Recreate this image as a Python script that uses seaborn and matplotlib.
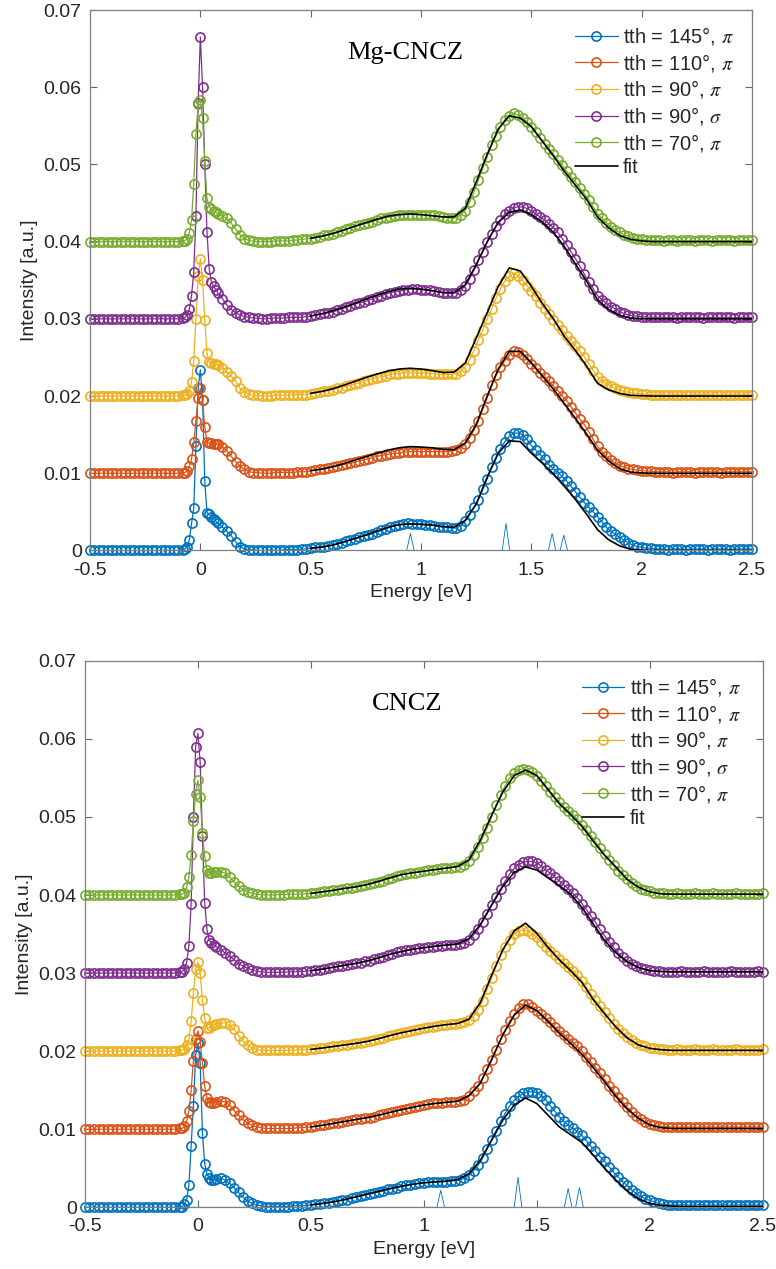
import numpy as np
import matplotlib
matplotlib.use("Agg")
import matplotlib.pyplot as plt
import seaborn as sns

# === CONFIGURACIÓN INICIAL ===
sns.set_theme(style="ticks")
plt.rcParams["font.family"] = ["Liberation Sans", "DejaVu Sans"]
plt.rcParams["mathtext.fontset"] = "stix"
plt.rcParams["axes.unicode_minus"] = False

# === DATOS ===
# Energía [eV] de los espectros medidos
energy = [
    -0.50, -0.48, -0.46, -0.44, -0.42, -0.40, -0.38, -0.36, -0.34, -0.32,
    -0.30, -0.28, -0.26, -0.24, -0.22, -0.20, -0.18, -0.16, -0.14, -0.12,
    -0.10, -0.08,
    -0.07, -0.06, -0.05, -0.04, -0.03, -0.02, -0.01, 0.00, 0.01, 0.02, 0.03, 0.04, 0.05, 0.06, 0.07,
    0.08, 0.10, 0.12, 0.14, 0.16, 0.18, 0.20, 0.22, 0.24, 0.26,
    0.28, 0.30, 0.32, 0.34, 0.36, 0.38, 0.40, 0.42, 0.44, 0.46,
    0.48, 0.50, 0.52, 0.54, 0.56, 0.58, 0.60, 0.62, 0.64, 0.66,
    0.68, 0.70, 0.72, 0.74, 0.76, 0.78, 0.80, 0.82, 0.84, 0.86,
    0.88, 0.90, 0.92, 0.94, 0.96, 0.98, 1.00, 1.02, 1.04, 1.06,
    1.08, 1.10, 1.12, 1.14, 1.16, 1.18, 1.20, 1.22, 1.24, 1.26,
    1.28, 1.30, 1.32, 1.34, 1.36, 1.38, 1.40, 1.42, 1.44, 1.46,
    1.48, 1.50, 1.52, 1.54, 1.56, 1.58, 1.60, 1.62, 1.64, 1.66,
    1.68, 1.70, 1.72, 1.74, 1.76, 1.78, 1.80, 1.82, 1.84, 1.86,
    1.88, 1.90, 1.92, 1.94, 1.96, 1.98, 2.00, 2.02, 2.04, 2.06,
    2.08, 2.10, 2.12, 2.14, 2.16, 2.18, 2.20, 2.22, 2.24, 2.26,
    2.28, 2.30, 2.32, 2.34, 2.36, 2.38, 2.40, 2.42, 2.44, 2.46,
    2.48, 2.50,
]

# Energía [eV] del ajuste
fit_energy = [
    0.50, 0.55, 0.60, 0.65, 0.70, 0.75, 0.80, 0.85, 0.90, 0.95,
    1.00, 1.05, 1.10, 1.15, 1.20, 1.25, 1.30, 1.35, 1.40, 1.45,
    1.50, 1.55, 1.60, 1.65, 1.70, 1.75, 1.80, 1.85, 1.90, 1.95,
    2.00, 2.05, 2.10, 2.15, 2.20, 2.25, 2.30, 2.35, 2.40, 2.45, 2.50,
]

labels = [r"tth = 145°, $\pi$", r"tth = 110°, $\pi$", r"tth = 90°, $\pi$",
          r"tth = 90°, $\sigma$", r"tth = 70°, $\pi$"]
colors = ["#0072BD", "#D95319", "#EDB120", "#7E2F8E", "#77AC30"]
offsets = [0.0, 0.01, 0.02, 0.03, 0.04]
unit = 1e-3  # las intensidades de abajo van en 1e-3 u.a. sobre su línea base

# --- Mg-CNCZ: datos ---
mg_145 = [
    0, 0, 0, 0, 0, 0, 0, 0, 0, 0, 0, 0, 0, 0, 0, 0, 0, 0, 0, 0, 0, 0.1,
    0.2, 0.5, 1.4, 3.5, 5.5, 13.5, 21.0, 23.4, 19.5, 9.0, 4.9, 4.7, 4.4, 4.1, 3.8,
    3.5, 3.0, 2.5, 1.9, 1.1, 0.5, 0.2, 0.1, 0.1, 0.0,
    0.0, 0.0, 0.1, 0.0, 0.0, 0.1, 0.1, 0.1, 0.1, 0.2,
    0.2, 0.3, 0.4, 0.4, 0.5, 0.6, 0.7, 0.9, 1.0, 1.2,
    1.4, 1.5, 1.7, 1.9, 2.0, 2.2, 2.4, 2.6, 2.8, 3.0,
    3.2, 3.3, 3.4, 3.5, 3.4, 3.4, 3.4, 3.3, 3.3, 3.2,
    3.1, 3.0, 3.0, 2.9, 2.9, 3.2, 3.8, 4.6, 5.6, 6.6,
    7.9, 9.3, 10.8, 12.0, 13.2, 14.1, 14.8, 15.2, 15.2, 15.0,
    14.4, 13.6, 13.0, 12.4, 11.8, 11.1, 10.6, 10.1, 9.6, 9.0,
    8.3, 7.6, 6.9, 6.2, 5.6, 5.0, 4.4, 3.7, 3.0, 2.5,
    2.1, 1.7, 1.3, 1.0, 0.7, 0.5, 0.4, 0.3, 0.3, 0.2,
    0.2, 0.2, 0.1, 0.2, 0.2, 0.2, 0.1, 0.2, 0.2, 0.2,
    0.2, 0.1, 0.2, 0.2, 0.2, 0.2, 0.1, 0.2, 0.2, 0.2,
    0.2, 0.2,
]
mg_110 = [
    0, 0, 0, 0, 0, 0, 0, 0, 0, 0, 0, 0, 0, 0, 0, 0, 0, 0, 0, 0, 0, 0.1,
    0.1, 0.3, 0.9, 1.8, 4.0, 6.8, 9.8, 11.0, 9.5, 6.0, 4.0, 3.9, 3.9, 3.8, 3.8,
    3.8, 3.4, 2.9, 2.2, 1.5, 0.9, 0.5, 0.2, 0.1, 0.1,
    0.0, 0.0, 0.0, 0.1, 0.1, 0.1, 0.1, 0.1, 0.2, 0.2,
    0.2, 0.3, 0.4, 0.5, 0.6, 0.7, 0.8, 0.9, 1.1, 1.2,
    1.3, 1.4, 1.6, 1.7, 1.9, 2.0, 2.2, 2.3, 2.4, 2.5,
    2.6, 2.6, 2.7, 2.8, 2.8, 2.8, 2.8, 2.8, 2.8, 2.8,
    2.8, 2.8, 2.8, 2.9, 3.0, 3.3, 3.8, 4.6, 5.6, 6.8,
    8.3, 9.8, 11.4, 12.7, 13.8, 14.6, 15.3, 15.8, 15.7, 15.3,
    14.8, 14.2, 13.6, 13.0, 12.5, 11.9, 11.3, 10.7, 10.0, 9.4,
    8.6, 7.8, 7.0, 6.3, 5.4, 4.4, 3.5, 2.8, 2.2, 1.7,
    1.3, 1.0, 0.8, 0.6, 0.5, 0.4, 0.35, 0.3, 0.25, 0.2,
    0.2, 0.2, 0.2, 0.1, 0.2, 0.2, 0.2, 0.2, 0.1, 0.2,
    0.2, 0.2, 0.2, 0.2, 0.1, 0.2, 0.2, 0.2, 0.2, 0.2,
    0.2, 0.2,
]
mg_90p = [
    0, 0, 0, 0, 0, 0, 0, 0, 0, 0, 0, 0, 0, 0, 0, 0, 0, 0, 0, 0, 0, 0.1,
    0.1, 0.3, 0.7, 1.8, 4.5, 10.0, 15.5, 17.8, 15.0, 9.8, 5.6, 4.4, 4.3, 4.2, 4.1,
    4.0, 3.7, 3.1, 2.6, 1.9, 1.0, 0.5, 0.25, 0.1, 0.1,
    0.0, 0.0, 0.0, 0.1, 0.1, 0.1, 0.1, 0.2, 0.2, 0.2,
    0.2, 0.3, 0.4, 0.5, 0.6, 0.7, 0.8, 1.0, 1.1, 1.3,
    1.4, 1.6, 1.7, 1.9, 2.1, 2.2, 2.4, 2.5, 2.6, 2.8,
    2.9, 2.9, 3.0, 3.0, 3.0, 3.0, 3.0, 3.0, 2.9, 2.9,
    2.8, 2.8, 2.8, 2.8, 2.9, 3.2, 3.8, 4.7, 5.9, 7.3,
    8.6, 10.0, 11.3, 12.7, 13.9, 14.9, 15.5, 15.9, 15.6, 15.0,
    14.3, 13.6, 12.9, 12.1, 11.3, 10.6, 9.9, 9.2, 8.5, 7.8,
    7.1, 6.5, 5.8, 5.1, 4.2, 3.3, 2.5, 2.0, 1.6, 1.3,
    1.0, 0.8, 0.6, 0.5, 0.4, 0.35, 0.3, 0.25, 0.2, 0.2,
    0.2, 0.2, 0.1, 0.2, 0.2, 0.2, 0.2, 0.1, 0.2, 0.2,
    0.2, 0.2, 0.2, 0.1, 0.2, 0.2, 0.2, 0.2, 0.2, 0.2,
    0.2, 0.2,
]
mg_90s = [
    0, 0, 0, 0, 0, 0, 0, 0, 0, 0, 0, 0, 0, 0, 0, 0, 0, 0, 0, 0, 0, 0.1,
    0.2, 0.5, 1.3, 3.0, 6.1, 13.3, 28.0, 36.5, 30.0, 20.0, 11.3, 6.5, 4.8, 4.2, 3.8,
    3.3, 2.6, 1.8, 1.2, 0.8, 0.5, 0.3, 0.2, 0.1, 0.1,
    0.0, 0.0, 0.1, 0.1, 0.1, 0.1, 0.2, 0.2, 0.2, 0.2,
    0.3, 0.35, 0.5, 0.6, 0.7, 0.8, 0.9, 1.1, 1.3, 1.5,
    1.7, 1.9, 2.1, 2.2, 2.4, 2.6, 2.8, 3.0, 3.2, 3.4,
    3.5, 3.6, 3.7, 3.8, 3.9, 3.9, 3.8, 3.8, 3.7, 3.6,
    3.5, 3.4, 3.3, 3.3, 3.4, 3.7, 4.3, 5.2, 6.3, 7.6,
    8.7, 9.9, 11.0, 12.0, 12.8, 13.6, 14.0, 14.4, 14.5, 14.5,
    14.3, 14.0, 13.6, 13.2, 12.8, 12.3, 11.8, 11.2, 10.4, 9.6,
    8.7, 7.8, 6.8, 5.8, 4.8, 3.9, 3.0, 2.5, 2.0, 1.6,
    1.3, 0.9, 0.7, 0.5, 0.4, 0.35, 0.3, 0.25, 0.2, 0.2,
    0.2, 0.2, 0.2, 0.2, 0.1, 0.2, 0.2, 0.2, 0.2, 0.2,
    0.1, 0.2, 0.2, 0.2, 0.2, 0.2, 0.2, 0.1, 0.2, 0.2,
    0.2, 0.2,
]
mg_70 = [
    0, 0, 0, 0, 0, 0, 0, 0, 0, 0, 0, 0, 0, 0, 0, 0, 0, 0, 0, 0, 0, 0.1,
    0.1, 0.4, 1.1, 2.8, 7.5, 14.0, 17.8, 18.4, 16.0, 10.5, 5.6, 4.5, 4.2, 4.0, 3.8,
    3.6, 3.3, 3.0, 2.4, 1.6, 0.9, 0.4, 0.15, 0.05, 0.0,
    0.0, 0.0, 0.0, 0.1, 0.1, 0.1, 0.1, 0.2, 0.2, 0.3,
    0.35, 0.4, 0.5, 0.6, 0.8, 0.9, 1.0, 1.2, 1.4, 1.6,
    1.8, 2.0, 2.1, 2.3, 2.4, 2.6, 2.8, 3.0, 3.1, 3.2,
    3.3, 3.4, 3.5, 3.5, 3.5, 3.5, 3.5, 3.5, 3.4, 3.4,
    3.3, 3.2, 3.1, 3.0, 3.1, 3.5, 4.0, 5.1, 6.4, 8.0,
    9.5, 11.0, 12.5, 13.7, 14.9, 15.8, 16.3, 16.6, 16.4, 16.0,
    15.5, 14.9, 14.2, 13.4, 12.7, 12.0, 11.3, 10.6, 9.9, 9.1,
    8.4, 7.7, 6.9, 6.2, 5.4, 4.5, 3.6, 3.0, 2.4, 1.9,
    1.5, 1.2, 0.9, 0.7, 0.5, 0.4, 0.3, 0.2, 0.2, 0.15,
    0.15, 0.1, 0.15, 0.15, 0.1, 0.15, 0.15, 0.15, 0.1, 0.15,
    0.15, 0.15, 0.1, 0.15, 0.15, 0.15, 0.15, 0.1, 0.15, 0.15,
    0.15, 0.15,
]

# --- Mg-CNCZ: ajuste ---
mg_145_fit = [0.28, 0.45, 0.7, 1.1, 1.55, 2.0, 2.5, 3.0, 3.35, 3.45,
              3.4, 3.3, 3.1, 3.0, 3.9, 6.0, 9.5, 12.6, 14.2, 14.1,
              12.6, 11.3, 9.9, 8.3, 6.6, 4.7, 2.7, 1.4, 0.6, 0.15,
              0.05, 0, 0, 0, 0, 0, 0, 0, 0, 0, 0]
mg_110_fit = [0.34, 0.55, 0.85, 1.25, 1.7, 2.15, 2.6, 3.0, 3.3, 3.45,
              3.4, 3.3, 3.1, 3.05, 3.9, 6.3, 10.0, 13.5, 15.8, 15.8,
              14.3, 12.6, 10.9, 9.0, 7.1, 5.1, 3.0, 1.6, 0.6, 0.15,
              0.05, 0, 0, 0, 0, 0, 0, 0, 0, 0, 0]
mg_90p_fit = [0.36, 0.6, 0.95, 1.4, 1.9, 2.4, 2.85, 3.25, 3.5, 3.6,
              3.5, 3.3, 3.05, 3.1, 4.25, 7.5, 10.8, 14.2, 16.6, 16.2,
              14.2, 12.0, 10.0, 7.7, 5.9, 3.9, 1.65, 0.8, 0.35, 0.1,
              0.05, 0, 0, 0, 0, 0, 0, 0, 0, 0, 0]
mg_90s_fit = [0.37, 0.65, 1.05, 1.5, 2.0, 2.55, 3.05, 3.5, 3.85, 3.95,
              3.85, 3.65, 3.4, 3.4, 4.4, 7.0, 10.0, 12.5, 13.8, 14.1,
              13.5, 12.5, 11.2, 9.35, 7.1, 4.9, 2.45, 1.2, 0.45, 0.1,
              0.03, 0, 0, 0, 0, 0, 0, 0, 0, 0, 0]
mg_70_fit = [0.44, 0.7, 1.05, 1.5, 2.0, 2.45, 2.9, 3.3, 3.5, 3.6,
             3.5, 3.35, 3.2, 3.2, 4.3, 7.7, 11.3, 14.6, 16.3, 16.0,
             14.9, 13.0, 11.1, 9.1, 7.3, 5.5, 3.2, 1.8, 0.8, 0.3,
             0.1, 0, 0, 0, 0, 0, 0, 0, 0, 0, 0]

# --- CNCZ: datos ---
cn_145 = [
    0, 0, 0, 0, 0, 0, 0, 0, 0, 0, 0, 0, 0, 0, 0, 0, 0, 0, 0, 0, 0, 0.1,
    0.1, 0.4, 1.0, 2.8, 7.8, 13.0, 19.5, 21.0, 18.5, 9.5, 5.6, 4.3, 3.8, 3.5, 3.5,
    3.6, 3.7, 3.5, 3.1, 2.5, 1.9, 1.3, 0.8, 0.5, 0.3,
    0.2, 0.1, 0.1, 0.1, 0.1, 0.1, 0.1, 0.2, 0.2, 0.2,
    0.25, 0.3, 0.4, 0.45, 0.5, 0.6, 0.7, 0.8, 0.9, 1.0,
    1.2, 1.3, 1.4, 1.6, 1.7, 1.8, 2.0, 2.1, 2.3, 2.4,
    2.5, 2.7, 2.8, 2.9, 3.0, 3.1, 3.1, 3.2, 3.2, 3.3,
    3.3, 3.3, 3.4, 3.4, 3.5, 3.7, 4.1, 4.7, 5.4, 6.3,
    7.5, 8.6, 9.8, 11.0, 12.0, 13.0, 13.7, 14.2, 14.6, 14.8,
    14.8, 14.7, 14.3, 13.8, 13.0, 12.3, 11.6, 11.0, 10.5, 10.1,
    9.7, 9.2, 8.5, 7.8, 7.2, 6.5, 5.9, 5.2, 4.5, 3.9,
    3.3, 2.8, 2.2, 1.8, 1.4, 1.1, 0.9, 0.7, 0.5, 0.4,
    0.35, 0.3, 0.3, 0.35, 0.3, 0.3, 0.3, 0.35, 0.3, 0.3,
    0.3, 0.3, 0.35, 0.3, 0.3, 0.3, 0.3, 0.35, 0.3, 0.3,
    0.3, 0.3,
]
cn_110 = [
    0, 0, 0, 0, 0, 0, 0, 0, 0, 0, 0, 0, 0, 0, 0, 0, 0, 0, 0, 0, 0, 0.1,
    0.1, 0.4, 1.0, 2.4, 5.0, 8.8, 11.5, 12.6, 11.2, 8.5, 5.5, 4.0, 3.5, 3.4, 3.4,
    3.5, 3.6, 3.5, 3.1, 2.4, 1.8, 1.2, 0.8, 0.5, 0.3,
    0.2, 0.1, 0.1, 0.1, 0.1, 0.1, 0.1, 0.1, 0.2, 0.2,
    0.25, 0.3, 0.4, 0.5, 0.55, 0.65, 0.75, 0.85, 0.95, 1.05,
    1.15, 1.25, 1.35, 1.4, 1.5, 1.6, 1.8, 1.9, 2.1, 2.2,
    2.35, 2.5, 2.6, 2.7, 2.85, 3.0, 3.1, 3.2, 3.3, 3.3,
    3.4, 3.45, 3.5, 3.55, 3.6, 3.8, 4.3, 4.9, 5.5, 6.5,
    7.7, 8.9, 10.2, 11.5, 12.7, 13.8, 14.7, 15.5, 16.0, 16.0,
    15.6, 15.2, 14.7, 14.2, 13.7, 13.1, 12.6, 12.1, 11.6, 11.1,
    10.6, 10.0, 9.3, 8.6, 7.9, 7.2, 6.4, 5.6, 4.9, 4.1,
    3.5, 2.8, 2.2, 1.7, 1.3, 0.9, 0.7, 0.5, 0.4, 0.35,
    0.3, 0.3, 0.25, 0.3, 0.3, 0.3, 0.25, 0.3, 0.3, 0.3,
    0.3, 0.25, 0.3, 0.3, 0.3, 0.3, 0.25, 0.3, 0.3, 0.3,
    0.3, 0.3,
]
cn_90p = [
    0, 0, 0, 0, 0, 0, 0, 0, 0, 0, 0, 0, 0, 0, 0, 0, 0, 0, 0, 0, 0, 0.1,
    0.1, 0.3, 0.8, 1.5, 3.8, 7.5, 10.5, 11.4, 10.0, 6.5, 4.2, 3.0, 3.0, 3.2, 3.4,
    3.5, 3.6, 3.6, 3.3, 2.8, 2.0, 1.3, 0.8, 0.4, 0.2,
    0.1, 0.1, 0.1, 0.1, 0.1, 0.1, 0.1, 0.1, 0.15, 0.2,
    0.2, 0.25, 0.3, 0.4, 0.45, 0.5, 0.6, 0.7, 0.75, 0.85,
    0.95, 1.0, 1.1, 1.2, 1.3, 1.45, 1.6, 1.75, 1.9, 2.05,
    2.2, 2.35, 2.45, 2.6, 2.7, 2.85, 2.95, 3.05, 3.15, 3.25,
    3.3, 3.4, 3.45, 3.5, 3.55, 3.7, 4.0, 4.5, 5.3, 6.4,
    7.9, 9.4, 10.9, 12.3, 13.4, 14.3, 15.0, 15.4, 15.5, 15.4,
    15.0, 14.6, 14.0, 13.4, 12.8, 12.3, 11.8, 11.3, 10.8, 10.3,
    9.7, 9.0, 8.2, 7.3, 6.5, 5.8, 5.0, 4.2, 3.5, 2.9,
    2.3, 1.8, 1.4, 1.0, 0.8, 0.6, 0.45, 0.35, 0.3, 0.25,
    0.2, 0.2, 0.25, 0.2, 0.2, 0.2, 0.25, 0.2, 0.2, 0.2,
    0.25, 0.2, 0.2, 0.2, 0.2, 0.25, 0.2, 0.2, 0.2, 0.2,
    0.2, 0.25,
]
cn_90s = [
    0, 0, 0, 0, 0, 0, 0, 0, 0, 0, 0, 0, 0, 0, 0, 0, 0, 0, 0, 0, 0, 0.1,
    0.2, 0.5, 1.3, 3.5, 8.9, 20.0, 29.0, 30.7, 27.0, 17.5, 9.0, 5.6, 4.2, 3.9, 3.6,
    3.4, 3.0, 2.6, 2.2, 1.7, 1.2, 0.9, 0.6, 0.4, 0.25,
    0.15, 0.1, 0.1, 0.1, 0.1, 0.1, 0.15, 0.15, 0.2, 0.2,
    0.25, 0.3, 0.4, 0.45, 0.55, 0.65, 0.75, 0.85, 0.95, 1.05,
    1.15, 1.25, 1.35, 1.5, 1.6, 1.75, 1.95, 2.1, 2.3, 2.5,
    2.65, 2.8, 2.9, 3.0, 3.1, 3.2, 3.25, 3.3, 3.35, 3.45,
    3.5, 3.55, 3.6, 3.65, 3.7, 3.85, 4.3, 4.9, 5.6, 6.6,
    7.6, 8.7, 9.8, 10.8, 11.8, 12.7, 13.4, 13.9, 14.2, 14.3,
    14.3, 14.1, 13.7, 13.2, 12.8, 12.3, 11.8, 11.3, 10.8, 10.2,
    9.6, 8.9, 8.1, 7.3, 6.5, 5.6, 4.8, 4.0, 3.3, 2.6,
    2.0, 1.6, 1.2, 0.9, 0.7, 0.5, 0.4, 0.3, 0.25, 0.2,
    0.2, 0.2, 0.2, 0.25, 0.2, 0.2, 0.2, 0.2, 0.25, 0.2,
    0.2, 0.2, 0.2, 0.2, 0.25, 0.2, 0.2, 0.2, 0.2, 0.2,
    0.25, 0.2,
]
cn_70 = [
    0, 0, 0, 0, 0, 0, 0, 0, 0, 0, 0, 0, 0, 0, 0, 0, 0, 0, 0, 0, 0, 0.1,
    0.1, 0.3, 1.0, 2.3, 5.1, 9.5, 13.0, 14.7, 12.5, 7.9, 5.0, 3.2, 2.8, 2.8, 2.9,
    3.0, 3.0, 2.8, 2.3, 1.7, 1.1, 0.7, 0.4, 0.2, 0.1,
    0.05, 0.0, 0.0, 0.0, 0.05, 0.05, 0.1, 0.1, 0.1, 0.15,
    0.15, 0.2, 0.3, 0.35, 0.45, 0.5, 0.6, 0.7, 0.8, 0.9,
    0.95, 1.05, 1.15, 1.25, 1.35, 1.5, 1.7, 1.85, 2.05, 2.2,
    2.4, 2.6, 2.7, 2.8, 2.85, 2.95, 3.05, 3.15, 3.25, 3.3,
    3.4, 3.45, 3.5, 3.6, 3.65, 3.9, 4.4, 5.1, 6.1, 7.3,
    8.6, 10.0, 11.5, 12.8, 14.0, 15.0, 15.6, 16.0, 16.2, 16.0,
    15.7, 15.3, 14.6, 13.9, 13.2, 12.5, 11.9, 11.3, 10.8, 10.3,
    9.7, 9.0, 8.3, 7.6, 6.8, 6.0, 5.2, 4.5, 3.8, 3.1,
    2.5, 2.0, 1.5, 1.1, 0.8, 0.6, 0.45, 0.3, 0.25, 0.2,
    0.15, 0.15, 0.2, 0.15, 0.15, 0.15, 0.2, 0.15, 0.15, 0.15,
    0.2, 0.15, 0.15, 0.15, 0.15, 0.2, 0.15, 0.15, 0.15, 0.15,
    0.15, 0.2,
]

# --- CNCZ: ajuste ---
cn_145_fit = [0.3, 0.5, 0.7, 1.0, 1.35, 1.7, 2.05, 2.4, 2.7, 2.95,
              3.15, 3.25, 3.35, 3.55, 4.3, 6.0, 8.6, 11.2, 13.1, 14.0,
              13.3, 11.8, 10.3, 9.3, 8.3, 6.7, 5.0, 3.5, 2.1, 1.1,
              0.5, 0.25, 0.15, 0.1, 0.1, 0.1, 0.1, 0.1, 0.1, 0.1, 0.1]
cn_110_fit = [0.3, 0.5, 0.75, 1.0, 1.25, 1.5, 1.8, 2.15, 2.5, 2.8,
              3.1, 3.3, 3.45, 3.6, 4.3, 5.9, 8.9, 12.1, 14.6, 15.9,
              15.2, 13.8, 12.3, 11.0, 9.6, 7.9, 6.1, 4.2, 2.6, 1.4,
              0.55, 0.2, 0.1, 0.1, 0.1, 0.1, 0.1, 0.1, 0.1, 0.1, 0.1]
cn_90p_fit = [0.23, 0.4, 0.6, 0.8, 1.0, 1.25, 1.6, 2.0, 2.35, 2.65,
              2.95, 3.2, 3.4, 3.55, 4.1, 6.2, 9.7, 13.0, 15.4, 16.4,
              15.1, 13.3, 11.7, 10.3, 8.8, 6.6, 4.8, 3.1, 1.7, 0.8,
              0.36, 0.18, 0.1, 0.1, 0.1, 0.1, 0.1, 0.1, 0.1, 0.1, 0.1]
cn_90s_fit = [0.3, 0.5, 0.75, 1.0, 1.25, 1.55, 1.95, 2.4, 2.75, 3.05,
              3.25, 3.45, 3.6, 3.75, 4.4, 6.2, 8.7, 11.1, 12.9, 13.6,
              13.2, 12.2, 11.2, 10.1, 8.4, 6.3, 4.2, 2.6, 1.45, 0.7,
              0.3, 0.2, 0.15, 0.15, 0.15, 0.15, 0.15, 0.15, 0.15, 0.15, 0.15]
cn_70_fit = [0.2, 0.4, 0.6, 0.85, 1.05, 1.35, 1.75, 2.2, 2.6, 2.85,
             3.05, 3.25, 3.45, 3.65, 4.5, 7.0, 10.2, 13.2, 15.3, 16.0,
             15.3, 13.5, 11.7, 10.3, 8.8, 6.9, 5.1, 3.6, 2.0, 1.0,
             0.41, 0.15, 0.1, 0.1, 0.1, 0.1, 0.1, 0.1, 0.1, 0.1, 0.1]

# --- Excitaciones calculadas (picos finos) ---
mg_stick_e = [-0.5, 0.935, 0.952, 0.969, 1.368, 1.385, 1.402,
              1.577, 1.594, 1.611, 1.630, 1.647, 1.664, 2.5]
mg_stick_i = [0, 0, 2.2, 0, 0, 3.5, 0, 0, 2.2, 0, 0, 2.0, 0, 0]
cn_stick_e = [-0.5, 1.058, 1.075, 1.092, 1.400, 1.417, 1.434,
              1.622, 1.639, 1.656, 1.672, 1.689, 1.706, 2.5]
cn_stick_i = [0, 0, 2.2, 0, 0, 3.85, 0, 0, 2.4, 0, 0, 2.55, 0, 0]

xticks = [-0.5, 0, 0.5, 1, 1.5, 2, 2.5]
xtick_labels = ["-0.5", "0", "0.5", "1", "1.5", "2", "2.5"]
yticks = [0, 0.01, 0.02, 0.03, 0.04, 0.05, 0.06, 0.07]
ytick_labels = ["0", "0.01", "0.02", "0.03", "0.04", "0.05", "0.06", "0.07"]

for curve in [mg_145, mg_110, mg_90p, mg_90s, mg_70, cn_145, cn_110, cn_90p, cn_90s, cn_70]:
    assert len(curve) == len(energy), len(curve)
for curve in [mg_145_fit, mg_110_fit, mg_90p_fit, mg_90s_fit, mg_70_fit,
              cn_145_fit, cn_110_fit, cn_90p_fit, cn_90s_fit, cn_70_fit]:
    assert len(curve) == len(fit_energy), len(curve)


# === GRÁFICOS ===
def draw_panel(ax, title, curves, fits, stick_e, stick_i):
    sns.lineplot(x=stick_e, y=np.array(stick_i) * unit, ax=ax, color=colors[0],
                 linewidth=0.6, sort=False, zorder=1, legend=False)
    for curve, off, col, lab in zip(curves, offsets, colors, labels):
        sns.lineplot(x=energy, y=np.array(curve) * unit + off, ax=ax, color=col,
                     marker="o", markersize=6.6, markerfacecolor="none",
                     markeredgecolor=col, markeredgewidth=1.2, linewidth=0.9,
                     sort=False, clip_on=False, zorder=2, label=lab)
    for i, (fit, off) in enumerate(zip(fits, offsets)):
        sns.lineplot(x=fit_energy, y=np.array(fit) * unit + off, ax=ax, color="black",
                     linewidth=1.2, sort=False, zorder=3,
                     label="fit" if i == 0 else None)

    ax.set_xlim(-0.5, 2.5)
    ax.set_ylim(0, 0.07)
    ax.set_xticks(xticks)
    ax.set_xticklabels(xtick_labels)
    ax.set_yticks(yticks)
    ax.set_yticklabels(ytick_labels)
    ax.tick_params(direction="in", top=True, right=True, length=5, width=0.8,
                   color="#666666", labelsize=14, labelcolor="#262626")
    ax.tick_params(axis="x", pad=8)
    ax.tick_params(axis="y", pad=6)
    for s in ax.spines.values():
        s.set_visible(True)
        s.set_color("#7f7f7f")
        s.set_linewidth(0.9)
    ax.set_xlabel("Energy [eV]", fontsize=14, color="#262626")
    ax.set_ylabel("Intensity [a.u.]", fontsize=14, color="#262626")
    ax.text(0.476, 0.92, title, transform=ax.transAxes, family="Liberation Serif",
            fontsize=19, ha="center", va="center", color="black")

    handles, labs = ax.get_legend_handles_labels()
    ax.legend(handles, labs, loc="upper left", bbox_to_anchor=(0.733, 0.972),
              frameon=False, fontsize=14.5, borderpad=0, borderaxespad=0,
              handlelength=2.1, handletextpad=0.28, labelspacing=0.23)


fig = plt.figure(figsize=(7.76, 12.69), dpi=100)
ax_top = fig.add_axes([0.1160, 0.5662, 0.8531, 0.4259])
ax_bot = fig.add_axes([0.1095, 0.0486, 0.8733, 0.4307])

draw_panel(ax_top, "Mg-CNCZ",
           [mg_145, mg_110, mg_90p, mg_90s, mg_70],
           [mg_145_fit, mg_110_fit, mg_90p_fit, mg_90s_fit, mg_70_fit],
           mg_stick_e, mg_stick_i)
draw_panel(ax_bot, "CNCZ",
           [cn_145, cn_110, cn_90p, cn_90s, cn_70],
           [cn_145_fit, cn_110_fit, cn_90p_fit, cn_90s_fit, cn_70_fit],
           cn_stick_e, cn_stick_i)

fig.savefig("out.png", dpi=100)
